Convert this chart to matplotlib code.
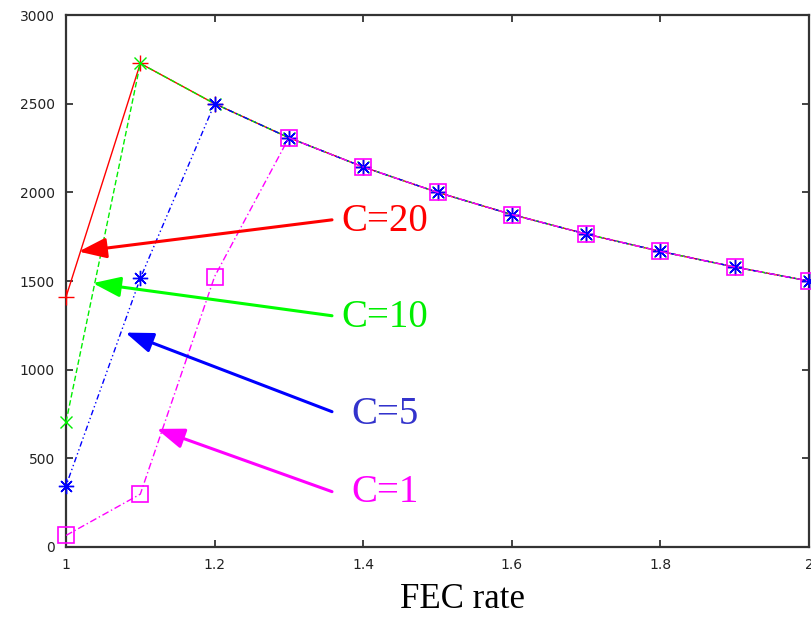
import numpy as np
import matplotlib
matplotlib.use("Agg")
import matplotlib.pyplot as plt

fec = [1.0, 1.1, 1.2, 1.3, 1.4, 1.5, 1.6, 1.7, 1.8, 1.9, 2.0]
c20 = [1410, 2727, 2500, 2308, 2143, 2000, 1875, 1765, 1667, 1579, 1500]
c10 = [705, 2727, 2500, 2308, 2143, 2000, 1875, 1765, 1667, 1579, 1500]
c5 = [345, 1515, 2500, 2308, 2143, 2000, 1875, 1765, 1667, 1579, 1500]
c1 = [65, 298, 1525, 2308, 2143, 2000, 1875, 1765, 1667, 1579, 1500]

labels = ["C=20", "C=10", "C=5", "C=1"]
arrow_tips = [(1.017, 1666), (1.036, 1488), (1.080, 1209), (1.122, 666)]
arrow_tails = [(1.358, 1845), (1.358, 1304), (1.358, 763), (1.358, 312)]
label_pos = [(1.371, 1834), (1.371, 1292), (1.384, 745), (1.384, 305)]

fig = plt.figure(figsize=(8.12, 6.21), dpi=100)
ax = fig.add_axes([0.0813, 0.1192, 0.915, 0.8566])

ax.plot(fec, c20, color="#ff0000", lw=1.0, ls="-", marker="+", ms=11, mew=1.0,
        clip_on=False, zorder=3)
ax.plot(fec, c10, color="#00ee00", lw=1.0, ls=(0, (4, 2)), marker="x", ms=9, mew=1.0,
        clip_on=False, zorder=3)
ax.plot(fec, c5, color="#0000ff", lw=1.0, ls=(0, (1, 2, 1, 2, 4, 2)),
        marker=(8, 2, 0), ms=11, mew=1.0, clip_on=False, zorder=3)
ax.plot(fec, c1, color="#ff00ff", lw=1.0, ls=(0, (5, 2, 1, 2)),
        marker="s", ms=11, mfc="none", mew=1.2, clip_on=False, zorder=3)

arrow_cols = ["#ff0000", "#00ff00", "#0000ff", "#ff00ff"]
text_cols = ["#ff0000", "#00ee00", "#3333cc", "#ff00ff"]
for lab, tip, tail, pos, ac, tc in zip(labels, arrow_tips, arrow_tails, label_pos, arrow_cols, text_cols):
    ax.annotate("", xy=tip, xytext=tail,
                arrowprops=dict(arrowstyle="-|>,head_length=0.6,head_width=0.22",
                                color=ac, lw=2.2,
                                mutation_scale=28, shrinkA=0, shrinkB=0))
    ax.text(pos[0], pos[1], lab, color=tc, fontsize=28,
            family="Liberation Serif", va="center", ha="left")

ax.set_xlim(1, 2)
ax.set_ylim(0, 3000)
ax.set_xticks([1, 1.2, 1.4, 1.6, 1.8, 2])
ax.set_xticklabels(["1", "1.2", "1.4", "1.6", "1.8", "2"])
ax.set_yticks(np.arange(0, 3001, 500))
ax.tick_params(direction="in", length=5, width=1.2, top=True, right=True,
               labelsize=10, colors="#222222", pad=8)
for sp in ax.spines.values():
    sp.set_linewidth(1.6)
    sp.set_color("#333333")

fig.text(0.570, 0.034, "FEC rate", fontsize=25, family="Liberation Serif",
         ha="center", va="center")

fig.savefig("out.png", dpi=100)
